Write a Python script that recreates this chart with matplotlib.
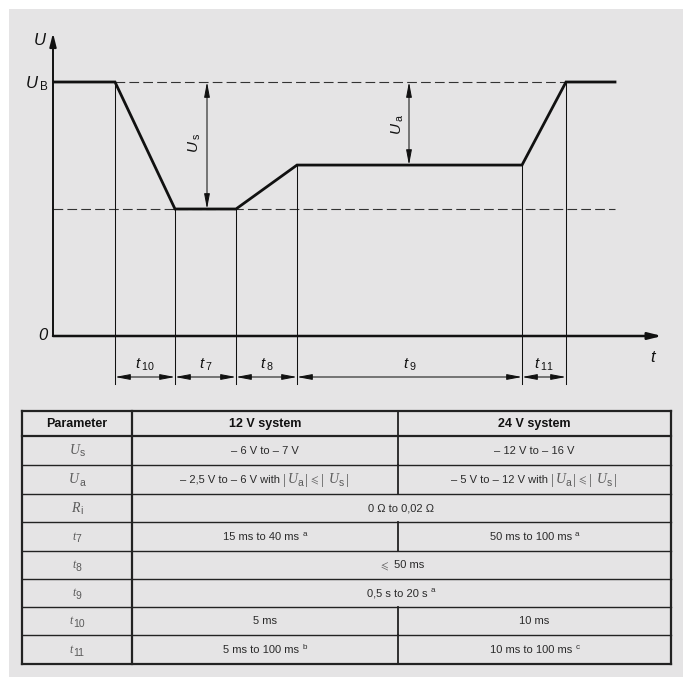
import re
import matplotlib
matplotlib.use("Agg")
import matplotlib.pyplot as plt
from matplotlib.patches import Rectangle

plt.rcParams['font.family'] = ['Liberation Sans', 'DejaVu Sans']
plt.rcParams['mathtext.fontset'] = 'custom'
plt.rcParams['mathtext.it'] = 'Liberation Sans:italic'
plt.rcParams['mathtext.rm'] = 'Liberation Sans'
plt.rcParams['mathtext.sf'] = 'Liberation Sans'
plt.rcParams['lines.scale_dashes'] = False

# ---------------- data ----------------
# schematic pulse (time in arbitrary units, voltage relative to U_B)
t_pts = [0, 62, 122, 183, 244, 469, 513, 562]
u_pts = [1.0, 1.0, 0.5, 0.5, 0.673, 0.673, 1.0, 1.0]
seg_labels = ['10', '7', '8', '9', '11']
u_low = 0.5
u_mid = 0.673

# table  ({X_y} = variable with subscript, ^x = footnote, <= = less-or-equal sign)
table_header = ['Parameter', '12 V system', '24 V system']
param_main = ['U', 'U', 'R', 't', 't', 't', 't', 't']
param_sub = ['s', 'a', 'i', '7', '8', '9', '10', '11']
sys12 = ['– 6 V to – 7 V',
         '– 2,5 V to – 6 V with |{U_a}|<=| {U_s}|',
         '0 Ω to 0,02 Ω',
         '15 ms to 40 ms ^a',
         '<= 50 ms',
         '0,5 s to 20 s ^a',
         '5 ms',
         '5 ms to 100 ms ^b']
sys24 = ['– 12 V to – 16 V',
         '– 5 V to – 12 V with |{U_a}|<=| {U_s}|',
         None,
         '50 ms to 100 ms ^a',
         None,
         None,
         '10 ms',
         '10 ms to 100 ms ^c']

# ---------------- figure ----------------
W, H = 687, 677
fig = plt.figure(figsize=(W / 100, H / 100), dpi=100)
fig.patch.set_facecolor('white')

bg = fig.add_axes([0, 0, 1, 1])
bg.set_xlim(0, W)
bg.set_ylim(H, 0)
bg.axis('off')
bg.add_patch(Rectangle((9, 9), 674, 668, facecolor='#e5e4e5', edgecolor='none', zorder=0))

# chart axes: origin at pixel (53, 336)
x0, y0 = 53, 336
x_end, y_top = 662, 33
uscale = 254.0  # pixels per U_B
ax = fig.add_axes([x0 / W, (H - y0) / H, (x_end - x0) / W, (y0 - y_top) / H])
ax.set_xlim(0, x_end - x0)
ax.set_ylim(0, (y0 - y_top) / uscale)
ax.axis('off')
ax.patch.set_alpha(0)

def py(p):  # pixel y -> data y
    return -(p - y0) / uscale

xmax = x_end - x0
ymax = (y0 - y_top) / uscale
black = '#111111'
thin = 0.75
dim_arrow = dict(arrowstyle='<|-|>,head_length=0.9,head_width=0.17', mutation_scale=10,
                 lw=thin, color=black, shrinkA=0, shrinkB=0)

# axes with arrows
ax.annotate('', xy=(0, ymax), xytext=(0, 0),
            arrowprops=dict(arrowstyle='-|>,head_length=0.8,head_width=0.2', mutation_scale=10,
                            lw=1.4, color=black, shrinkA=0, shrinkB=0), annotation_clip=False)
ax.annotate('', xy=(xmax, 0), xytext=(0, 0),
            arrowprops=dict(arrowstyle='-|>,head_length=0.8,head_width=0.2', mutation_scale=10,
                            lw=1.8, color=black, shrinkA=0, shrinkB=0), annotation_clip=False)

# dashed reference levels
ax.plot([t_pts[1], t_pts[6]], [1.0, 1.0], color='#333333', lw=0.8, dashes=(7, 3))
ax.plot([0, t_pts[-1]], [u_low, u_low], color='#333333', lw=0.8, dashes=(7, 3))

# pulse curve
ax.plot(t_pts, u_pts, color=black, lw=2.0, solid_joinstyle='miter', zorder=5)

# vertical extension lines
for t, u in zip(t_pts[1:-1], u_pts[1:-1]):
    ax.plot([t, t], [u, py(384)], color=black, lw=thin, clip_on=False)

# dimension arrows
ydim = py(377)
for i, lab in enumerate(seg_labels):
    a, b = t_pts[i + 1], t_pts[i + 2]
    ax.annotate('', xy=(a, ydim), xytext=(b, ydim), arrowprops=dim_arrow, annotation_clip=False)
    ax.text((a + b) / 2, py(369), r'$t\,_{\mathrm{%s}}$' % lab, fontsize=11, ha='center',
            va='baseline', color=black, clip_on=False)

# U_s and U_a arrows
xs = 154
ax.annotate('', xy=(xs, 1.0), xytext=(xs, u_low), arrowprops=dim_arrow)
ax.text(xs - 12, 0.76, r'$U\,_{\mathrm{s}}$', rotation=90, fontsize=11, ha='center', va='center',
        color=black)
xa = 356
ax.annotate('', xy=(xa, 1.0), xytext=(xa, u_mid), arrowprops=dim_arrow)
ax.text(xa - 11, 0.835, r'$U\,_{\mathrm{a}}$', rotation=90, fontsize=11, ha='center', va='center',
        color=black)

# axis labels
bg.text(40, 40, r'$U$', fontsize=12, ha='center', va='center', color=black)
bg.text(37, 84, r'$U\,_{\mathrm{B}}$', fontsize=12, ha='center', va='center', color=black)
bg.text(43, 336, '0', fontsize=12, ha='center', va='center', color=black, style='italic')
bg.text(654, 357, r'$t$', fontsize=12, ha='center', va='center', color=black)

# ---------------- table ----------------
col_x = [22, 132, 398, 671]
row_y = [411, 436, 465, 494, 522, 551, 579, 607, 635, 664]
line_c = '#222222'
text_c = '#2a2a2a'
math_c = '#5a5a5a'

for j, y in enumerate(row_y):
    lw = 1.6 if j in (0, 1, len(row_y) - 1) else 1.0
    bg.plot([col_x[0], col_x[-1]], [y, y], color=line_c, lw=lw, solid_capstyle='projecting')
for x in (col_x[0], col_x[1], col_x[-1]):
    bg.plot([x, x], [row_y[0], row_y[-1]], color=line_c, lw=1.6, solid_capstyle='projecting')
bg.plot([col_x[2], col_x[2]], [row_y[0], row_y[1]], color=line_c, lw=1.3)
for i, v in enumerate(sys24):
    if v is not None:
        bg.plot([col_x[2], col_x[2]], [row_y[i + 1], row_y[i + 2]], color=line_c, lw=1.3)

for k, h in enumerate(table_header):
    bg.text((col_x[k] + col_x[k + 1]) / 2, (row_y[0] + row_y[1]) / 2 + 0.5, h, fontsize=9,
            fontweight='bold', ha='center', va='center', color='#111111')

renderer = fig.canvas.get_renderer()

TXT = dict(family='Liberation Sans', size=8, color=text_c)
MIT = dict(family='Liberation Serif', style='italic', size=10, color=math_c)
MSUB = dict(family='Liberation Sans', size=7.5, color=math_c)
BAR = dict(family='Liberation Serif', size=10.5, color=math_c)
SUP = dict(family='Liberation Sans', size=5.8, color=text_c)


def draw_runs(xc, yb, runs):
    """runs: list of (string, props, dy, gap_after) drawn left-to-right, centred at xc."""
    texts = []
    for s, props, dy, gap in runs:
        if s == '<=':
            t = bg.text(0, yb + dy, r'$\leqslant$', ha='left', va='baseline', size=8,
                        color=math_c, math_fontfamily='stix')
        else:
            t = bg.text(0, yb + dy, s, ha='left', va='baseline', **props)
        texts.append((t, gap))
    widths = [t.get_window_extent(renderer).width for t, _ in texts]
    total = sum(widths) + sum(g for _, g in texts)
    x = xc - total / 2
    for (t, gap), w in zip(texts, widths):
        t.set_x(x)
        x += w + gap


def parse_cell(s):
    runs = []
    for tok in re.split(r'(\{\w_\w+\}|\^\w|<=|\|)', s):
        if not tok:
            continue
        if tok.startswith('{'):
            main, sub = tok[1:-1].split('_')
            runs.append((main, MIT, 0, 0.3))
            runs.append((sub, MSUB, 2.5, 1.0))
        elif tok.startswith('^'):
            runs.append((tok[1:], SUP, -4, 0))
        elif tok == '<=':
            runs.append(('<=', None, 0, 1.5))
        elif tok == '|':
            runs.append(('|', BAR, 1.0, 1.5))
        else:
            runs.append((tok, TXT, 0, 0))
    return runs


for i in range(len(param_main)):
    yb = (row_y[i + 1] + row_y[i + 2]) / 2 + 3.5
    pm = dict(MIT)
    if param_main[i] == 't':
        pm['size'] = 8.5
    draw_runs((col_x[0] + col_x[1]) / 2, yb,
              [(param_main[i], pm, 0, 0.3), (param_sub[i], MSUB, 2.5, 0)])
    if sys24[i] is None:
        draw_runs((col_x[1] + col_x[3]) / 2, yb, parse_cell(sys12[i]))
    else:
        draw_runs((col_x[1] + col_x[2]) / 2, yb, parse_cell(sys12[i]))
        draw_runs((col_x[2] + col_x[3]) / 2, yb, parse_cell(sys24[i]))

fig.savefig('out.png', dpi=100, facecolor=fig.get_facecolor())
